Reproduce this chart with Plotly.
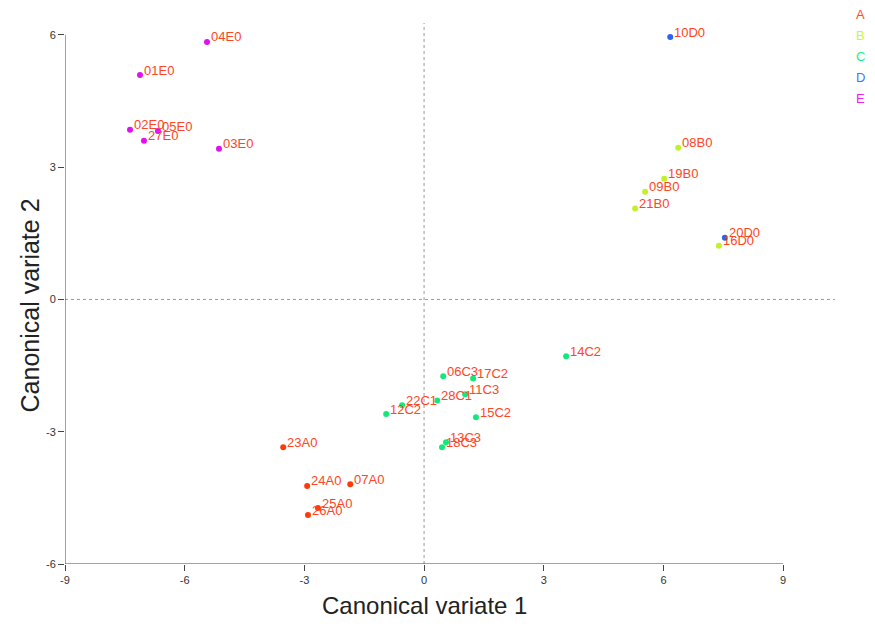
import plotly.graph_objects as go

# ---- data ----
groups = ["A", "B", "C", "D", "E"]
group_colors = {"A": "#ff3a0a", "B": "#c4f02a", "C": "#14e87a", "D": "#2f62f0", "E": "#e010f0"}
legend_colors = {"A": "#ff4a2a", "B": "#c8f53a", "C": "#22ee88", "D": "#4477ff", "E": "#ee22ee"}

labels = ["04E0", "01E0", "02E0", "05E0", "27E0", "03E0",
          "10D0", "20D0",
          "08B0", "19B0", "09B0", "21B0", "16D0",
          "14C2", "06C3", "17C2", "11C3", "28C1", "22C1", "12C2", "15C2", "13C3", "18C3",
          "23A0", "24A0", "07A0", "25A0", "26A0"]
cv1 = [-5.44, -7.12, -7.37, -6.67, -7.02, -5.14,
       6.17, 7.54,
       6.37, 6.02, 5.54, 5.29, 7.39,
       3.56, 0.48, 1.23, 1.03, 0.33, -0.55, -0.95, 1.30, 0.55, 0.45,
       -3.53, -2.93, -1.85, -2.66, -2.91]
cv2 = [5.84, 5.09, 3.85, 3.82, 3.60, 3.42,
       5.95, 1.40,
       3.44, 2.74, 2.44, 2.06, 1.22,
       -1.29, -1.74, -1.79, -2.15, -2.29, -2.40, -2.60, -2.67, -3.24, -3.35,
       -3.35, -4.23, -4.19, -4.73, -4.89]
group = ["E"] * 6 + ["D"] * 2 + ["B"] * 5 + ["C"] * 10 + ["A"] * 5

x_ticks = [-9, -6, -3, 0, 3, 6, 9]
y_ticks = [-6, -3, 0, 3, 6]
x_title = "Canonical variate 1"
y_title = "Canonical variate 2"
label_color = "#ff4422"

fig = go.Figure()
for g in groups:
    idx = [i for i, gg in enumerate(group) if gg == g]
    fig.add_trace(go.Scatter(
        x=[cv1[i] for i in idx], y=[cv2[i] for i in idx],
        mode="markers", name=g,
        marker=dict(color=group_colors[g], size=6, line=dict(width=0)),
        showlegend=False,
    ))

annotations = []
for lx, ly, lt in zip(cv1, cv2, labels):
    annotations.append(dict(x=lx, y=ly, text=lt, showarrow=False, xanchor="left", yanchor="middle",
                            xshift=2, yshift=5, font=dict(family="Liberation Sans, Arial", size=13, color=label_color)))
for k, g in enumerate(groups):
    annotations.append(dict(x=1.0, y=1.0, xref="paper", yref="paper", text=g, showarrow=False,
                            xanchor="center", yanchor="middle", xshift=25, yshift=9 - 21 * k,
                            font=dict(family="Liberation Sans, Arial", size=13, color=legend_colors[g])))
# axis titles, centred on the drawn axes
annotations.append(dict(x=0, y=0, xref="x", yref="paper", text=x_title, showarrow=False,
                        xanchor="center", yanchor="middle", yshift=-41,
                        font=dict(family="Liberation Sans, Arial", size=24, color="#222222")))
annotations.append(dict(x=0, y=0, xref="paper", yref="y", text=y_title, showarrow=False, textangle=-90,
                        xanchor="center", yanchor="middle", xshift=-35, yshift=-6,
                        font=dict(family="Liberation Sans, Arial", size=25, color="#222222")))

shapes = [
    dict(type="line", x0=0, x1=0, y0=-6, y1=6.27, line=dict(color="#999999", width=1, dash="dot")),
    dict(type="line", x0=-9, x1=10.3, y0=0, y1=0, line=dict(color="#999999", width=1, dash="dot")),
    dict(type="line", x0=-9, x1=9, y0=-6, y1=-6, line=dict(color="#444444", width=1)),
    dict(type="line", x0=-9, x1=-9, y0=-6, y1=6, line=dict(color="#444444", width=1)),
]

fig.update_layout(
    width=867, height=610,
    margin=dict(l=57, r=40, t=15, b=54),
    paper_bgcolor="white", plot_bgcolor="white",
    annotations=annotations, shapes=shapes,
    xaxis=dict(range=[-9, 10.3], tickvals=x_ticks, ticktext=[str(v) for v in x_ticks],
               showgrid=False, zeroline=False, showline=False,
               ticks="outside", ticklen=6, tickcolor="#444444",
               tickfont=dict(family="Liberation Sans Narrow, Liberation Sans, Arial", size=11, color="#333333"),
               automargin=False),
    yaxis=dict(range=[-6, 6.27], tickvals=y_ticks, ticktext=[str(v) for v in y_ticks],
               showgrid=False, zeroline=False, showline=False,
               ticks="outside", ticklen=6, tickcolor="#444444",
               tickfont=dict(family="Liberation Sans Narrow, Liberation Sans, Arial", size=11, color="#333333"),
               automargin=False),
)

fig.write_html("out.html")
